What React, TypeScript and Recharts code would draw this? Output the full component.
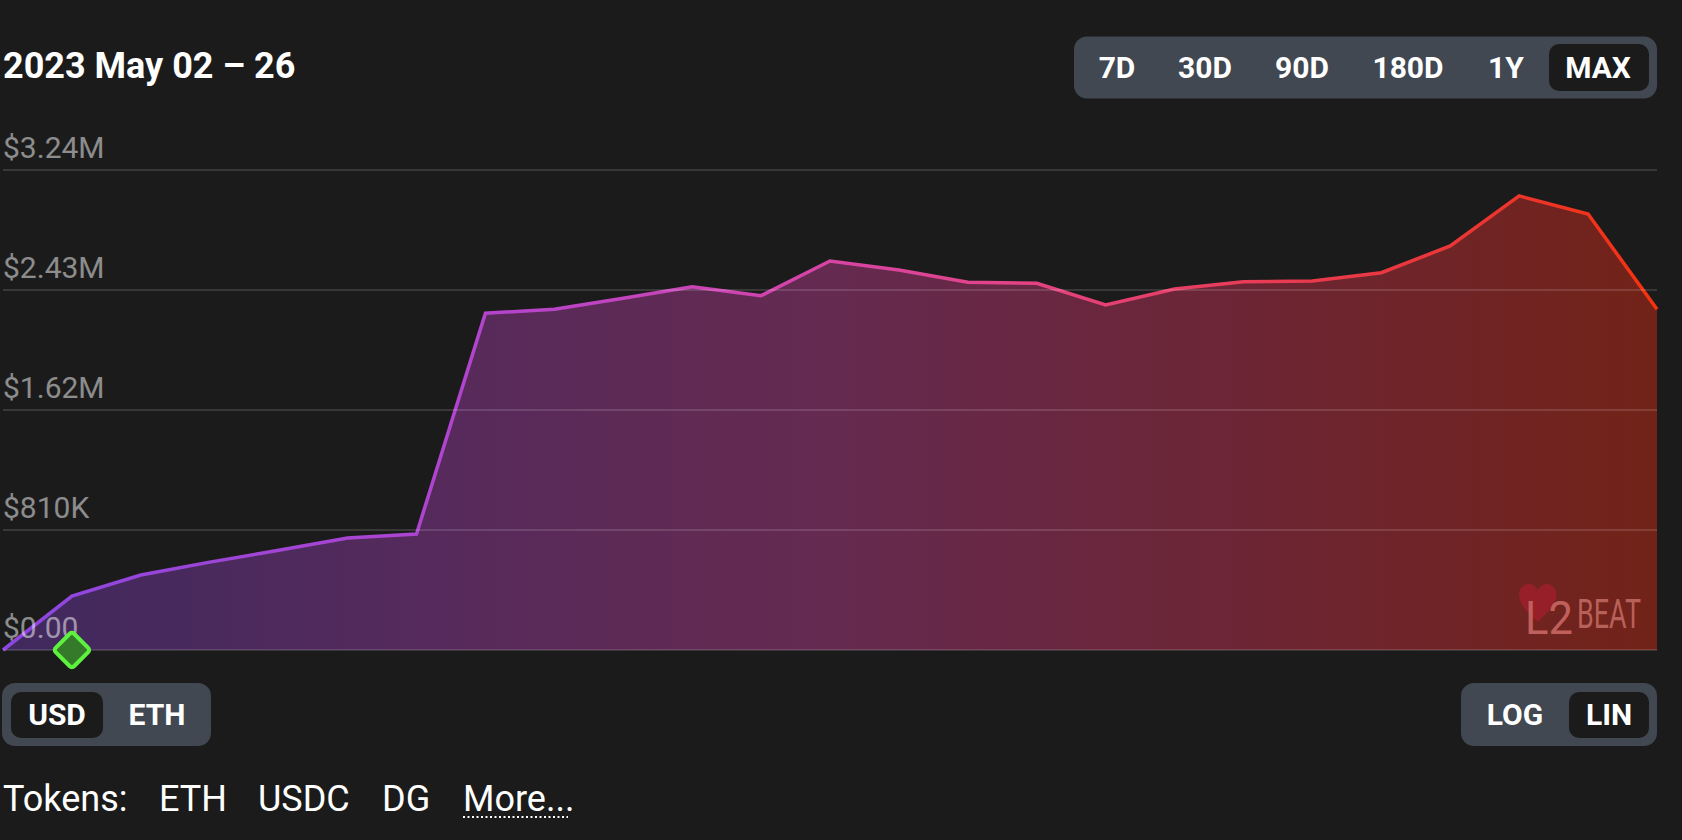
import React from 'react';
import { AreaChart, Area, XAxis, YAxis, ReferenceLine, ReferenceDot } from 'recharts';

const dates = [
  '2023-05-02', '2023-05-03', '2023-05-04', '2023-05-05', '2023-05-06',
  '2023-05-07', '2023-05-08', '2023-05-09', '2023-05-10', '2023-05-11',
  '2023-05-12', '2023-05-13', '2023-05-14', '2023-05-15', '2023-05-16',
  '2023-05-17', '2023-05-18', '2023-05-19', '2023-05-20', '2023-05-21',
  '2023-05-22', '2023-05-23', '2023-05-24', '2023-05-25', '2023-05-26',
];
const tvlUsd = [
  0, 364000, 506000, 593000, 673000,
  756000, 783000, 2273000, 2300000, 2374000,
  2452000, 2392000, 2626000, 2565000, 2482000,
  2475000, 2329000, 2437000, 2486000, 2491000,
  2547000, 2727000, 3065000, 2943000, 2300000,
];
const yTicks = [0, 810000, 1620000, 2430000, 3240000];
const yTickLabels = ['$0.00', '$810K', '$1.62M', '$2.43M', '$3.24M'];
const rangeOptions = ['7D', '30D', '90D', '180D', '1Y', 'MAX'];
const currencyOptions = ['USD', 'ETH'];
const scaleOptions = ['LOG', 'LIN'];
const tokenNames = ['ETH', 'USDC', 'DG'];
const titleText = '2023 May 02 \u2013 26';
const eventDate = dates[1];

const chartData = dates.map((d, i) => ({ date: d, usd: tvlUsd[i] }));

const FONT = 'Roboto, "Noto Sans", sans-serif';
const BG = '#1b1b1b';
const PANEL = '#414851';

const makeTickLabel = (text: string) => (props: any) => {
  const vb = props.viewBox || {};
  const y = vb.y ?? 0;
  return (
    <text x={3} y={y - 12} fill="rgba(255,255,255,0.5)" fontSize={30} fontFamily={FONT}>
      {text}
    </text>
  );
};

const Diamond = (props: any) => {
  const { cx, cy } = props;
  if (cx == null || cy == null) return null;
  return (
    <rect
      x={cx - 13}
      y={cy - 13}
      width={26}
      height={26}
      rx={3}
      fill="#357a2a"
      stroke="#5df23e"
      strokeWidth={4}
      transform={`rotate(45 ${cx} ${cy})`}
    />
  );
};

const rangeCenters = [1117, 1205, 1302, 1408, 1506, 1598];
const currencyCenters = [57, 157];
const scaleCenters = [1515, 1609];
const tokenX = [159, 258, 382];

export default function App() {
  return (
    <div style={{ position: 'absolute', left: 0, top: 0, width: 1682, height: 840, background: BG, overflow: 'hidden' }}>
      <svg width={1682} height={840} style={{ position: 'absolute', left: 0, top: 0 }}>
        <text x={3} y={78} fill="#ffffff" fontSize={36} fontWeight={700} fontFamily={FONT}>{titleText}</text>

        <rect x={1074} y={36.5} width={583} height={62} rx={13} fill={PANEL} />
        <rect x={1549} y={44} width={100} height={47} rx={10} fill={BG} />
        {rangeOptions.map((r, i) => (
          <text key={r} x={rangeCenters[i]} y={78} textAnchor="middle" fill="#ffffff" fontSize={30} fontWeight={700} fontFamily={FONT}>{r}</text>
        ))}

        <rect x={2} y={683} width={209} height={63} rx={13} fill={PANEL} />
        <rect x={11} y={692} width={92} height={46} rx={10} fill={BG} />
        {currencyOptions.map((c, i) => (
          <text key={c} x={currencyCenters[i]} y={725} textAnchor="middle" fill="#ffffff" fontSize={30} fontWeight={700} fontFamily={FONT}>{c}</text>
        ))}

        <rect x={1461} y={683} width={196} height={63} rx={13} fill={PANEL} />
        <rect x={1569} y={692} width={80} height={46} rx={10} fill={BG} />
        {scaleOptions.map((c, i) => (
          <text key={c} x={scaleCenters[i]} y={725} textAnchor="middle" fill="#ffffff" fontSize={30} fontWeight={700} fontFamily={FONT}>{c}</text>
        ))}

        <text x={3} y={811} fill="#ffffff" fontSize={36} fontFamily={FONT}>Tokens:</text>
        {tokenNames.map((t, i) => (
          <text key={t} x={tokenX[i]} y={811} fill="#ffffff" fontSize={36} fontFamily={FONT}>{t}</text>
        ))}
        <text x={463} y={811} fill="#ffffff" fontSize={36} fontFamily={FONT}>More...</text>
        <line x1={463} y1={817} x2={568} y2={817} stroke="#ffffff" strokeWidth={2} strokeDasharray="2 2.5" />
      </svg>

      <div style={{ position: 'absolute', left: 0, top: 0 }}>
        <AreaChart width={1682} height={840} data={chartData} margin={{ top: 170, right: 25, bottom: 190, left: 3 }}>
          <defs>
            <linearGradient id="fillGrad" x1="0" y1="0" x2="1" y2="0">
              <stop offset="0%" stopColor="#40295e" />
              <stop offset="25%" stopColor="#552a5c" />
              <stop offset="50%" stopColor="#652a50" />
              <stop offset="75%" stopColor="#6c2534" />
              <stop offset="100%" stopColor="#722318" />
            </linearGradient>
            <linearGradient id="strokeGrad" x1="0" y1="0" x2="1" y2="0">
              <stop offset="0%" stopColor="#8b46e0" />
              <stop offset="30%" stopColor="#b444cc" />
              <stop offset="45%" stopColor="#d044b0" />
              <stop offset="60%" stopColor="#e2448a" />
              <stop offset="75%" stopColor="#e83c58" />
              <stop offset="90%" stopColor="#ec3530" />
              <stop offset="100%" stopColor="#f5320f" />
            </linearGradient>
          </defs>
          <XAxis dataKey="date" hide />
          <YAxis domain={[0, 3240000]} ticks={yTicks} hide />
          <Area
            type="linear"
            dataKey="usd"
            stroke="url(#strokeGrad)"
            strokeWidth={3.5}
            fill="url(#fillGrad)"
            fillOpacity={1}
            dot={false}
            activeDot={false}
            isAnimationActive={false}
          />
          {yTicks.map((t, i) => (
            <ReferenceLine
              key={t}
              y={t}
              stroke="rgba(255,255,255,0.13)"
              strokeWidth={2}
              label={makeTickLabel(yTickLabels[i])}
            />
          ))}
          <ReferenceDot x={eventDate} y={0} r={13} shape={Diamond} ifOverflow="visible" />
        </AreaChart>
      </div>

      <svg width={1682} height={840} style={{ position: 'absolute', left: 0, top: 0, pointerEvents: 'none' }}>
        <path
          d="M15 28 C 5 20, 0 14, 0 8 C 0 3, 4 0, 8 0 C 11 0, 14 2, 15 5 C 16 2, 19 0, 22 0 C 26 0, 30 3, 30 8 C 30 14, 25 20, 15 28 Z"
          transform="translate(1519 584) scale(1.25 1.35)"
          fill="#9b1f2b"
          opacity={0.9}
        />
        <text x={1525} y={634} fill="#c0605c" fontSize={46} fontFamily={FONT} textLength={48} lengthAdjust="spacingAndGlyphs">L2</text>
        <text x={1577} y={628} fill="#b8605a" fontSize={40} fontFamily={FONT} textLength={64} lengthAdjust="spacingAndGlyphs">BEAT</text>
      </svg>
    </div>
  );
}
